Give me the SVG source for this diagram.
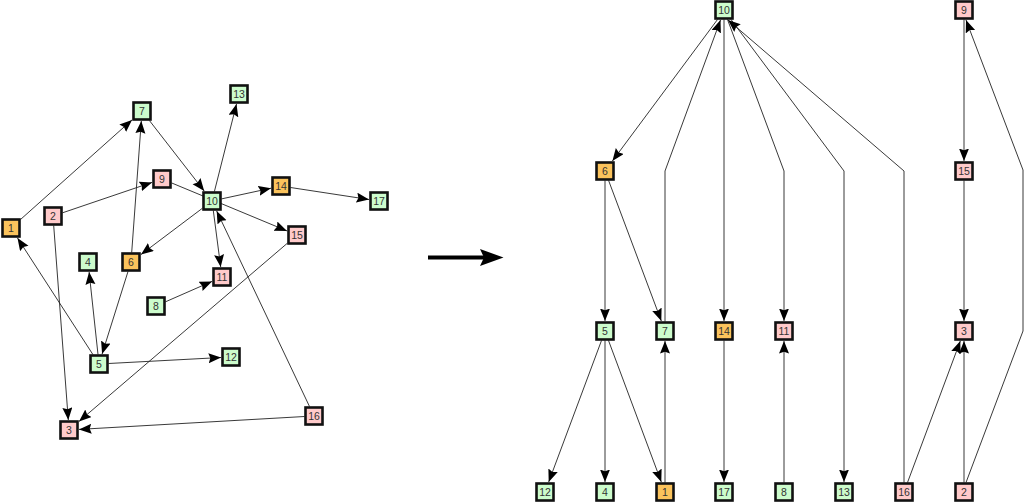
<svg xmlns="http://www.w3.org/2000/svg" width="1024" height="502" viewBox="0 0 1024 502">
<style>
.n rect{stroke:#111;stroke-width:2.6}
.g rect{fill:#ccfccc}
.p rect{fill:#ffcaca}
.o rect{fill:#fbc35c}
.n text{font-family:"Liberation Sans",Arial,sans-serif;font-size:10.5px;fill:#333;text-anchor:middle;dominant-baseline:central}
.e path{fill:none;stroke:#222;stroke-width:0.9;marker-end:url(#ah)}
</style>
<defs>
<marker id="ah" markerUnits="userSpaceOnUse" markerWidth="14" markerHeight="11" refX="12.5" refY="5" orient="auto" viewBox="0 0 14 11">
<path d="M0,0 L12.5,5 L0,10 L1.8,5 z" fill="#000"/>
</marker>
</defs>
<rect width="1024" height="502" fill="#fff"/>

<g id="connectors" class="e">
<!-- left graph -->
<path d="M20.5,219.5 L132,119.9"/>
<path d="M62.5,212.8 L152,182.4"/>
<path d="M53.7,225.5 L68.3,420"/>
<path d="M149.4,120.5 L204.2,191"/>
<path d="M171.5,182.9 L287,230.9"/>
<path d="M214.4,191.5 L236.5,104"/>
<path d="M221.5,198.9 L271,188.2"/>
<path d="M290.5,187.5 L369,199.5"/>
<path d="M213.3,210.5 L220.7,267"/>
<path d="M202.5,208.2 L141,254.5"/>
<path d="M131.7,252.5 L141.3,121"/>
<path d="M128,271.5 L102.1,354"/>
<path d="M92.9,354.5 L17.5,238"/>
<path d="M98,354.5 L89.1,272"/>
<path d="M108.5,363.5 L221,357.5"/>
<path d="M165.5,301.8 L212,281.4"/>
<path d="M287.5,243.1 L79,421.4"/>
<path d="M304.5,416.5 L79,429.4"/>
<path d="M309.5,406.5 L216.7,211"/>
<!-- right graph -->
<path d="M717.5,19.5 L612.4,161"/>
<path d="M665,321.5 L665,171 L720.5,20"/>
<path d="M724,19.5 L724,321"/>
<path d="M727.5,19.5 L784,171 L784,321"/>
<path d="M731,19.5 L844,171 L844,482"/>
<path d="M904,482.5 L904,171 L728,20"/>
<path d="M605,180.5 L605,321"/>
<path d="M608.6,180.5 L661.3,321"/>
<path d="M601.5,340.5 L548.7,482"/>
<path d="M605,340.5 L605,482"/>
<path d="M608.5,340.5 L661.3,482"/>
<path d="M665,482.5 L665,341"/>
<path d="M724,340.5 L724,482"/>
<path d="M784,482.5 L784,341"/>
<path d="M964,19.5 L964,161"/>
<path d="M964,180.5 L964,321"/>
<path d="M907.5,482.5 L960.3,341"/>
<path d="M964,482.5 L964,341"/>
<path d="M966,482.5 L1023,331 L1023,170 L966,20"/>
</g>

<g id="bigarrow">
<line x1="428" y1="257.5" x2="484" y2="257.5" stroke="#000" stroke-width="4"/>
<polygon points="480,249 503.5,257.5 480,266 484,257.5" fill="#000"/>
</g>

<!-- left graph nodes -->
<g id="L1" class="n o" transform="translate(11,228)"><rect x="-8.5" y="-8.5" width="17" height="17"/><text>1</text></g>
<g id="L2" class="n p" transform="translate(53,216)"><rect x="-8.5" y="-8.5" width="17" height="17"/><text>2</text></g>
<g id="L3" class="n p" transform="translate(69,430)"><rect x="-8.5" y="-8.5" width="17" height="17"/><text>3</text></g>
<g id="L4" class="n g" transform="translate(88,262)"><rect x="-8.5" y="-8.5" width="17" height="17"/><text>4</text></g>
<g id="L5" class="n g" transform="translate(99,364)"><rect x="-8.5" y="-8.5" width="17" height="17"/><text>5</text></g>
<g id="L6" class="n o" transform="translate(131,262)"><rect x="-8.5" y="-8.5" width="17" height="17"/><text>6</text></g>
<g id="L7" class="n g" transform="translate(142,111)"><rect x="-8.5" y="-8.5" width="17" height="17"/><text>7</text></g>
<g id="L8" class="n g" transform="translate(156,306)"><rect x="-8.5" y="-8.5" width="17" height="17"/><text>8</text></g>
<g id="L9" class="n p" transform="translate(162,179)"><rect x="-8.5" y="-8.5" width="17" height="17"/><text>9</text></g>
<g id="L10" class="n g" transform="translate(212,201)"><rect x="-8.5" y="-8.5" width="17" height="17"/><text>10</text></g>
<g id="L11" class="n p" transform="translate(222,277)"><rect x="-8.5" y="-8.5" width="17" height="17"/><text>11</text></g>
<g id="L12" class="n g" transform="translate(231,357)"><rect x="-8.5" y="-8.5" width="17" height="17"/><text>12</text></g>
<g id="L13" class="n g" transform="translate(239,94)"><rect x="-8.5" y="-8.5" width="17" height="17"/><text>13</text></g>
<g id="L14" class="n o" transform="translate(281,186)"><rect x="-8.5" y="-8.5" width="17" height="17"/><text>14</text></g>
<g id="L15" class="n p" transform="translate(297,235)"><rect x="-8.5" y="-8.5" width="17" height="17"/><text>15</text></g>
<g id="L16" class="n p" transform="translate(314,416)"><rect x="-8.5" y="-8.5" width="17" height="17"/><text>16</text></g>
<g id="L17" class="n g" transform="translate(379,201)"><rect x="-8.5" y="-8.5" width="17" height="17"/><text>17</text></g>

<!-- right graph nodes -->
<g id="R10" class="n g" transform="translate(724,10)"><rect x="-8.5" y="-8.5" width="17" height="17"/><text>10</text></g>
<g id="R9" class="n p" transform="translate(964,10)"><rect x="-8.5" y="-8.5" width="17" height="17"/><text>9</text></g>
<g id="R6" class="n o" transform="translate(605,171)"><rect x="-8.5" y="-8.5" width="17" height="17"/><text>6</text></g>
<g id="R15" class="n p" transform="translate(964,171)"><rect x="-8.5" y="-8.5" width="17" height="17"/><text>15</text></g>
<g id="R5" class="n g" transform="translate(605,331)"><rect x="-8.5" y="-8.5" width="17" height="17"/><text>5</text></g>
<g id="R7" class="n g" transform="translate(665,331)"><rect x="-8.5" y="-8.5" width="17" height="17"/><text>7</text></g>
<g id="R14" class="n o" transform="translate(724,331)"><rect x="-8.5" y="-8.5" width="17" height="17"/><text>14</text></g>
<g id="R11" class="n p" transform="translate(784,331)"><rect x="-8.5" y="-8.5" width="17" height="17"/><text>11</text></g>
<g id="R3" class="n p" transform="translate(964,331)"><rect x="-8.5" y="-8.5" width="17" height="17"/><text>3</text></g>
<g id="R12" class="n g" transform="translate(545,492)"><rect x="-8.5" y="-8.5" width="17" height="17"/><text>12</text></g>
<g id="R4" class="n g" transform="translate(605,492)"><rect x="-8.5" y="-8.5" width="17" height="17"/><text>4</text></g>
<g id="R1" class="n o" transform="translate(665,492)"><rect x="-8.5" y="-8.5" width="17" height="17"/><text>1</text></g>
<g id="R17" class="n g" transform="translate(724,492)"><rect x="-8.5" y="-8.5" width="17" height="17"/><text>17</text></g>
<g id="R8" class="n g" transform="translate(784,492)"><rect x="-8.5" y="-8.5" width="17" height="17"/><text>8</text></g>
<g id="R13" class="n g" transform="translate(844,492)"><rect x="-8.5" y="-8.5" width="17" height="17"/><text>13</text></g>
<g id="R16" class="n p" transform="translate(904,492)"><rect x="-8.5" y="-8.5" width="17" height="17"/><text>16</text></g>
<g id="R2" class="n p" transform="translate(964,492)"><rect x="-8.5" y="-8.5" width="17" height="17"/><text>2</text></g>
</svg>
